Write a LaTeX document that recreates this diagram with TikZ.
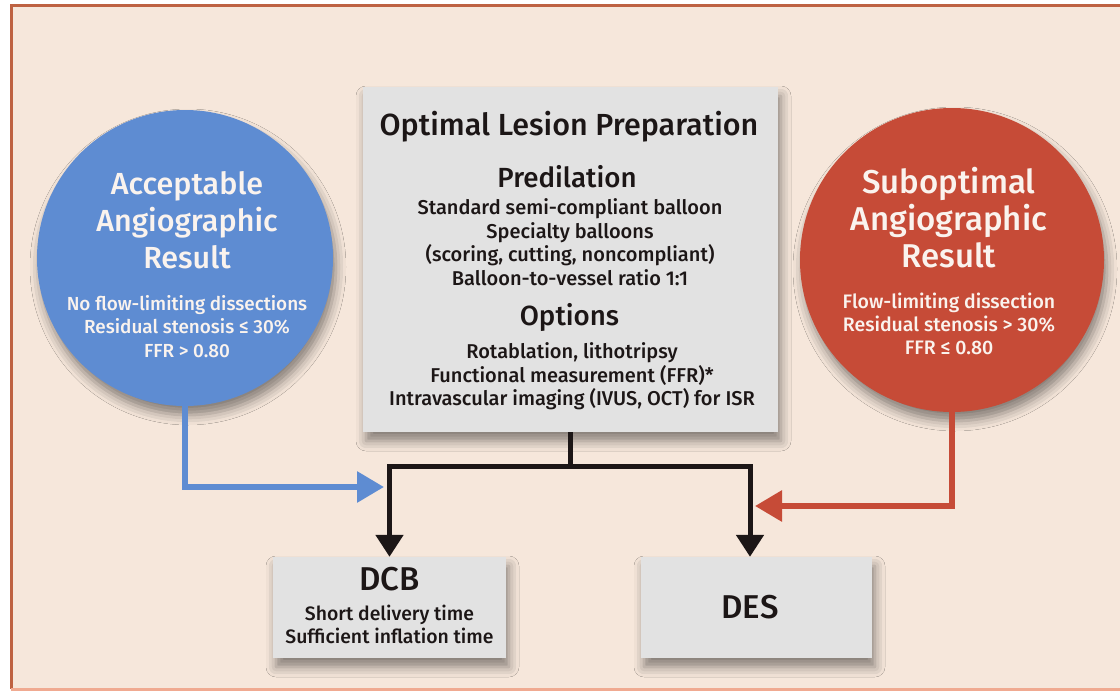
\documentclass[tikz,border=0pt]{standalone}
\usepackage{fontspec}
\setmainfont{Fira Sans}[UprightFont={* Medium}]
\usetikzlibrary{arrows.meta,shadows.blur}

\definecolor{bgpeach}{RGB}{246,231,219}
\definecolor{framebrown}{RGB}{190,98,66}
\definecolor{framesalmon}{RGB}{240,170,145}
\definecolor{goodblue}{RGB}{94,140,210}
\definecolor{badred}{RGB}{198,75,55}
\definecolor{boxgrey}{RGB}{226,226,226}
\definecolor{inkblack}{RGB}{28,22,22}
\definecolor{circtext}{RGB}{250,243,238}

\tikzset{
  softshadow/.style={blur shadow={shadow xshift=3pt, shadow yshift=-9pt,
      shadow blur radius=10pt, shadow opacity=45}},
  greybox/.style={fill=boxgrey, softshadow, inner sep=0pt},
  result/.style={circle, inner sep=0pt, softshadow},
  bighead/.style={font=\fontsize{30.5}{34}\selectfont, anchor=base, text=inkblack, inner sep=0pt},
  subhead/.style={font=\fontsize{27.7}{32}\selectfont, anchor=base, text=inkblack, inner sep=0pt},
  bodytxt/.style={font=\fontsize{20}{23}\selectfont, anchor=base, text=inkblack, inner sep=0pt},
  circhead/.style={font=\fontsize{#1}{36}\selectfont, anchor=base, text=circtext, inner sep=0pt},
  circtxt/.style={font=\fontsize{#1}{22}\selectfont, anchor=base, text=circtext, inner sep=0pt},
  boxhead/.style={font=\fontsize{33}{36}\selectfont, anchor=base, text=inkblack, inner sep=0pt},
  trunk/.style={draw=inkblack, line width=5pt},
  trunkarrow/.style={trunk, -{Triangle[width=27pt,length=22pt]}},
  goodflow/.style={draw=goodblue, line width=6pt, -{Triangle[width=30pt,length=27pt]}},
  badflow/.style={draw=badred, line width=6pt, -{Triangle[width=30pt,length=27pt]}}
}

\begin{document}
\begin{tikzpicture}[x=1pt, y=-1pt]
  \useasboundingbox (0,0) rectangle (1120,691);
  % Frame
  \fill[white] (0,0) rectangle (1120,691);
  \fill[bgpeach] (11,5) rectangle (1130,689);
  \draw[framebrown, line width=3pt] (1130,5) -- (11,5) -- (11,689);
  \draw[framesalmon, line width=3pt] (11,689) -- (1130,689);

  % Acceptable result
  \node[result, fill=goodblue, minimum size=296pt] (good) at (185,258) {};
  \foreach \txt/\y [count=\i] in {Acceptable/194, Angiographic/231, Result/268}
    \node[circhead=30.5] (good-h\i) at (187,\y) {\txt};
  \foreach \txt/\y [count=\i] in {No flow-limiting dissections/310,
      Residual stenosis ≤ 30\%/333, FFR > 0.80/357}
    \node[circtxt=18.9] (good-t\i) at (187,\y) {\txt};

  % Suboptimal result
  \node[result, fill=badred, minimum size=304pt] (bad) at (952,260) {};
  \foreach \txt/\y [count=\i] in {Suboptimal/193, Angiographic/230, Result/267}
    \node[circhead=33] (bad-h\i) at (949,\y) {\txt};
  \foreach \txt/\y [count=\i] in {Flow-limiting dissection/308,
      Residual stenosis > 30\%/331, FFR ≤ 0.80/354}
    \node[circtxt=19.5] (bad-t\i) at (949,\y) {\txt};

  % Lesion preparation
  \node[greybox, minimum width=415pt, minimum height=345pt] (prep) at (570.5,259.5) {};
  \node[bighead] (prep-title) at (569,135) {Optimal Lesion Preparation};
  \node[subhead] (predil) at (567,187) {Predilation};
  \foreach \txt/\y [count=\i] in {Standard semi-compliant balloon/214,
      Specialty balloons/238, {(scoring, cutting, noncompliant)}/261.5,
      Balloon-to-vessel ratio 1:1/285}
    \node[bodytxt] (predil-\i) at (570,\y) {\txt};
  \node[subhead] (opts) at (569.5,325) {Options};
  \foreach \txt/\y [count=\i] in {{Rotablation, lithotripsy}/358,
      Functional measurement (FFR)*/382,
      {Intravascular imaging (IVUS, OCT) for ISR}/405}
    \node[bodytxt] (opts-\i) at (572,\y) {\txt};

  % Devices
  \node[greybox, minimum width=233pt, minimum height=101pt] (dcb) at (389.5,607.5) {};
  \node[boxhead] (dcb-h) at (389.5,590) {DCB};
  \node[circtxt=19.4, text=inkblack] (dcb-1) at (389.5,620) {Short delivery time};
  \node[circtxt=19.4, text=inkblack] (dcb-2) at (389.5,643) {Sufficient inflation time};
  \node[greybox, minimum width=231pt, minimum height=101pt] (des) at (756.5,607.5) {};
  \node[boxhead] (des-h) at (750,618) {DES};

  % Connectors
  \draw[trunk] (prep.south) -- ++(0,34) coordinate (split);
  \draw[trunkarrow] (split) -| (dcb.north);
  \draw[trunkarrow] (split) -| (des-h |- des.north);
  \coordinate (goodin) at (384,487);
  \coordinate (badin) at (755,506);
  \draw[goodflow] (good.south) |- (goodin);
  \draw[badflow] (bad.south) |- (badin);
\end{tikzpicture}
\end{document}
